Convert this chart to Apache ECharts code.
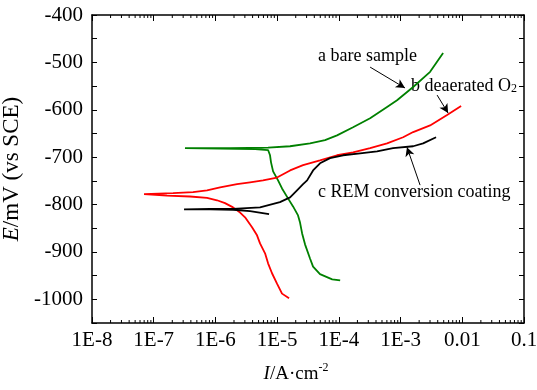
<!DOCTYPE html>
<html>
<head>
<meta charset="utf-8">
<script src="https://cdn.jsdelivr.net/npm/echarts@6/dist/echarts.min.js"></script>
<style>
  html, body { margin: 0; padding: 0; background: #fff; }
  #chart { width: 537px; height: 390px; }
</style>
</head>
<body>
<div id="chart"></div>
<script>
// a bare sample (green): cathodic branch up to Ecorr, spike, then anodic branch
const bareI = [1.05e-4, 7.8e-5, 4.95e-5, 3.82e-5, 3.41e-5, 2.83e-5, 2.54e-5, 2.35e-5, 2.18e-5, 1.81e-5, 1.5e-5, 1.2e-5, 1.035e-5, 8.6e-6, 7.96e-6, 7.67e-6, 7.13e-6, 4.39e-6, 1.19e-6, 3.21e-7,
  1.73e-6, 7.13e-6, 1.62e-5, 3.41e-5, 5.97e-5, 9.35e-5, 1.7e-4, 3.21e-4, 6.04e-4, 8.77e-4, 1.6e-3, 3.01e-3, 4.89e-3];
const bareE = [-960, -958, -947, -931, -914, -884, -861, -838, -823, -804, -787, -766, -749, -730, -711, -696, -685, -683, -682, -681,
  -681, -680, -677, -671, -664, -654, -637, -618, -594, -580, -552, -520, -480];

// b deaerated O2 (red)
const deaerI = [1.56e-5, 1.2e-5, 9.95e-6, 8.26e-6, 7.13e-6, 6.37e-6, 5.28e-6, 4.72e-6, 3.92e-6, 3.02e-6, 2.51e-6, 1.93e-6, 1.43e-6, 1.06e-6, 7.31e-7, 3.87e-7, 1.64e-7, 6.97e-8,
  2.06e-7, 4.34e-7, 7.31e-7, 1.19e-6, 2.24e-6, 3.64e-6, 5.9e-6, 9.95e-6, 1.62e-5, 2.63e-5, 4.95e-5, 9.35e-5, 1.7e-4, 3.21e-4, 6.04e-4, 1.1e-3, 1.6e-3, 3.01e-3, 5.67e-3, 9.57e-3];
const deaerE = [-998, -988, -967, -945, -924, -903, -882, -865, -848, -827, -817, -806, -797, -791, -786, -783, -781, -778,
  -776, -774, -770, -764, -757, -753, -749, -743, -728, -717, -707, -696, -690, -681, -671, -658, -647, -633, -611, -592];

// c REM conversion coating (black)
const remI = [7.4e-6, 3.64e-6, 1.93e-6, 8.17e-7, 3.1e-7,
  8.17e-7, 1.93e-6, 5.28e-6, 1.11e-5, 1.62e-5, 2.1e-5, 2.63e-5, 3.06e-5, 3.82e-5, 4.95e-5, 7.19e-5, 1.17e-4, 2.21e-4, 4.16e-4, 7.55e-4, 1.6e-3, 2.32e-3, 3.76e-3];
const remE = [-820, -814, -811, -810, -810,
  -809, -809, -806, -795, -785, -770, -757, -749, -728, -713, -702, -696, -692, -688, -681, -677, -671, -658];

// annotation arrows: [fromI, fromE, toI, toE]
const arrowA = [3.21e-4, -510, 1.18e-3, -554];
const arrowB = [3.91e-3, -569, 5.89e-3, -607];
const arrowC = [2.07e-3, -759, 1.27e-3, -679];

const yMin = -1050;
const yMax = -400;
const decades = [-8, -7, -6, -5, -4, -3, -2];
const minorTicks = [];
decades.forEach(d => { for (let m = 2; m <= 9; m++) minorTicks.push([m * Math.pow(10, d), yMin]); });

const FONT = "'Liberation Serif', 'DejaVu Serif', serif";
const zip = (xs, ys) => xs.map((x, i) => [x, ys[i]]);

function xLabel(v) {
  const e = Math.round(Math.log10(v));
  return e <= -3 ? "1E" + e : String(Math.pow(10, e).toFixed(-e));
}

function arrow(a) {
  return {
    silent: true,
    symbol: ["none", "arrow"],
    symbolSize: [7, 9],
    label: { show: false },
    lineStyle: { color: "#000", width: 1, type: "solid" },
    data: [[{ coord: [a[0], a[1]] }, { coord: [a[2], a[3]] }]],
  };
}

const chart = echarts.init(document.getElementById("chart"));

const xBase = {
  type: "log",
  min: 1e-8,
  max: 0.1,
  interval: 1,
  logBase: 10,
  axisLine: { lineStyle: { color: "#000", width: 1.5 } },
  axisTick: { inside: true, length: 6, lineStyle: { color: "#000", width: 1 } },
  splitLine: { show: false },
  minorTick: { show: false },
};
const yBase = {
  type: "value",
  min: yMin,
  max: yMax,
  interval: 50,
  axisLine: { show: true, lineStyle: { color: "#000", width: 1.5 } },
  axisTick: { show: true, inside: true, length: 5, lineStyle: { color: "#000", width: 1 } },
  splitLine: { show: false },
};

chart.setOption({
  animation: false,
  grid: { left: 92, right: 13, top: 15, bottom: 67, containLabel: false, outerBoundsMode: "none" },
  xAxis: [
    {
      ...xBase,
      position: "bottom",
      axisLabel: { color: "#000", fontFamily: FONT, fontSize: 21, margin: 7, formatter: xLabel },
      name: "{i|I}/A·cm{s|-2}",
      nameLocation: "middle",
      nameGap: 39,
      nameTextStyle: {
        color: "#000",
        fontFamily: FONT,
        fontSize: 19,
        padding: [0, 24, 0, 0],
        rich: {
          i: { fontFamily: FONT, fontSize: 19, fontStyle: "italic", color: "#000" },
          s: { fontFamily: FONT, fontSize: 12, color: "#000", padding: [0, 0, 12, 0] },
        },
      },
    },
    { ...xBase, position: "top", axisLabel: { show: false } },
  ],
  yAxis: [
    {
      ...yBase,
      position: "left",
      axisLabel: {
        color: "#000",
        fontFamily: FONT,
        fontSize: 21,
        margin: 9,
        formatter: v => (v % 100 === 0 ? String(v) : ""),
      },
      name: "{i|E}/mV (vs SCE)",
      nameLocation: "middle",
      nameGap: 55,
      nameRotate: 90,
      nameTextStyle: {
        color: "#000",
        fontFamily: FONT,
        fontSize: 23,
        rich: { i: { fontFamily: FONT, fontSize: 23, fontStyle: "italic", color: "#000" } },
      },
    },
    { ...yBase, position: "right", axisLabel: { show: false } },
  ],
  graphic: [
    { type: "text", left: 318, top: 47, style: { text: "a bare sample", font: "18px " + FONT, fill: "#000" } },
    {
      type: "text", left: 411, top: 77,
      style: {
        text: "b deaerated O{s|2}", font: "18px " + FONT, fill: "#000",
        rich: { s: { fontSize: 12, fontFamily: FONT, padding: [5, 0, 0, 0] } },
      },
    },
    { type: "text", left: 318, top: 183, style: { text: "c REM conversion coating", font: "18px " + FONT, fill: "#000" } },
  ],
  series: [
    {
      name: "a bare sample",
      type: "line",
      showSymbol: false,
      lineStyle: { color: "#008000", width: 1.8 },
      data: zip(bareI, bareE),
      markLine: arrow(arrowA),
      z: 3,
    },
    {
      name: "b deaerated O2",
      type: "line",
      showSymbol: false,
      lineStyle: { color: "#ff0000", width: 1.8 },
      data: zip(deaerI, deaerE),
      markLine: arrow(arrowB),
      z: 3,
    },
    {
      name: "c REM conversion coating",
      type: "line",
      showSymbol: false,
      lineStyle: { color: "#000", width: 1.8 },
      data: zip(remI, remE),
      markLine: arrow(arrowC),
      z: 3,
    },
    {
      type: "custom",
      silent: true,
      data: minorTicks,
      renderItem(params, api) {
        const b = api.coord([api.value(0), yMin]);
        const t = api.coord([api.value(0), yMax]);
        const st = { stroke: "#000", lineWidth: 1 };
        return {
          type: "group",
          children: [
            { type: "line", shape: { x1: b[0], y1: b[1], x2: b[0], y2: b[1] - 3 }, style: st },
            { type: "line", shape: { x1: t[0], y1: t[1], x2: t[0], y2: t[1] + 3 }, style: st },
          ],
        };
      },
    },
  ],
});
</script>
</body>
</html>
